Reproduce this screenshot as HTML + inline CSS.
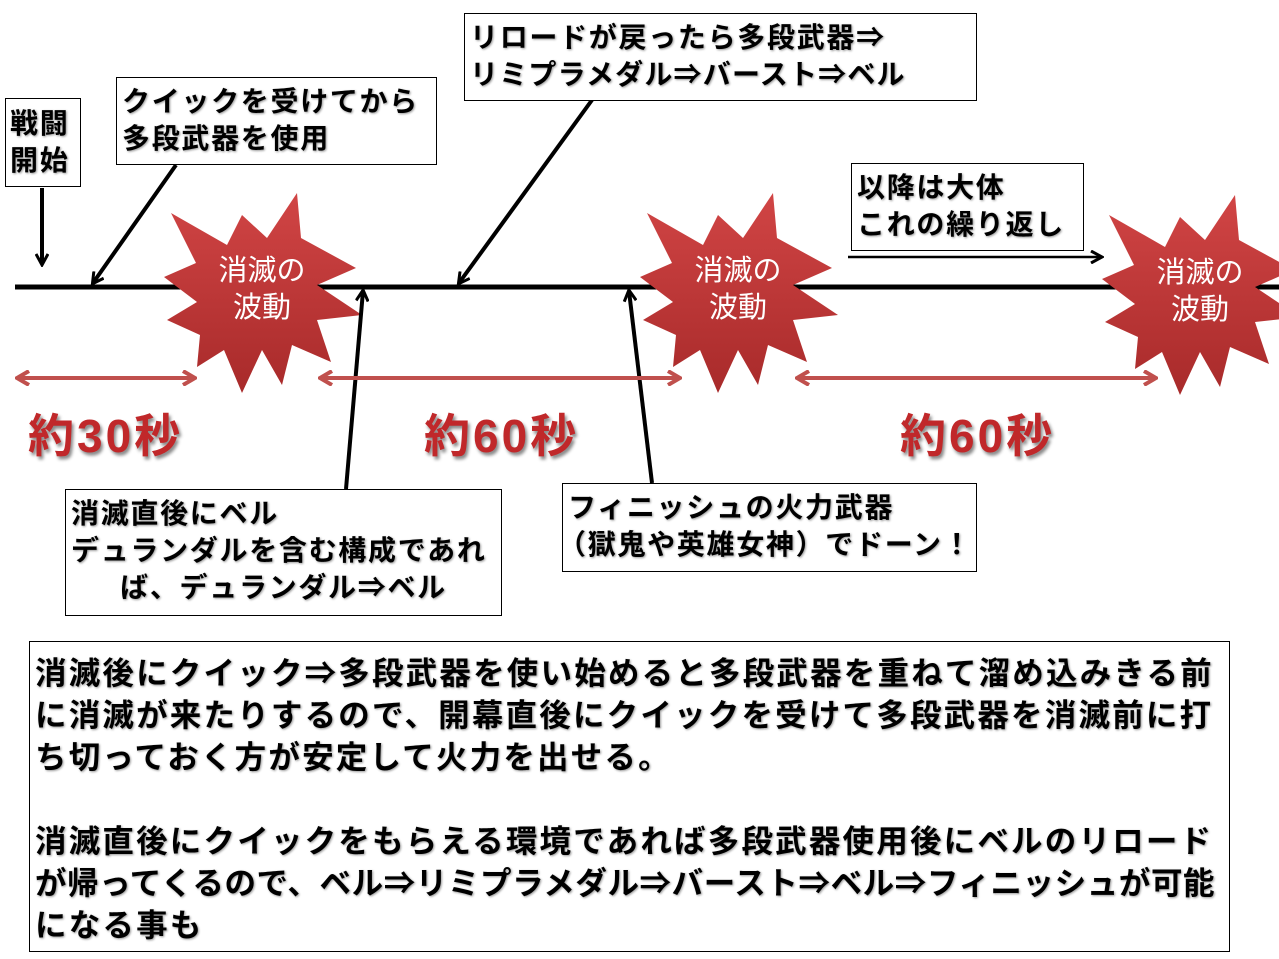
<!DOCTYPE html>
<html><head><meta charset="utf-8"><style>
body{margin:0;width:1279px;height:959px;background:#fff;position:relative;overflow:hidden;font-family:"Liberation Sans","Noto Sans CJK JP",sans-serif;}
.b{position:absolute;border:1px solid #000;background:#fff;font-weight:bold;font-size:28px;line-height:37px;color:#000;box-sizing:border-box;padding:5px 5px 2px;white-space:nowrap;text-shadow:1px 1px 2px #999;letter-spacing:1.7px;}
.r{position:absolute;font-weight:bold;font-size:46px;color:#c0282a;text-shadow:2px 3px 3px #888;letter-spacing:3px;}
svg{position:absolute;left:0;top:0}
</style></head><body>
<svg width="1279" height="959">
<defs>
<linearGradient id="g" x1="0" y1="0" x2="0" y2="1"><stop offset="0" stop-color="#d14545"/><stop offset="1" stop-color="#a82a2a"/></linearGradient>
<marker id="a" markerWidth="14" markerHeight="14" refX="11" refY="7" orient="auto" markerUnits="userSpaceOnUse"><path d="M1,1 L12,7 L1,13" fill="none" stroke="#000" stroke-width="3"/></marker>
<marker id="rr" markerWidth="16" markerHeight="16" refX="14" refY="8" orient="auto-start-reverse" markerUnits="userSpaceOnUse"><path d="M2,1 L14,8 L2,15" fill="none" stroke="#c0504d" stroke-width="4"/></marker>
<symbol id="s" overflow="visible"><polygon points="-91,-77 -35,-45 -20,-75 5,-52 35,-97 39,-52 94,-22 55,-5 100,25 55,30 69,72 30,55 20,95 0,60 -20,103 -38,60 -65,77 -62,45 -95,30 -65,12 -98,-13 -66,-27" fill="url(#g)"/></symbol>
</defs>
<line x1="15" y1="287" x2="1279" y2="287" stroke="#000" stroke-width="5"/>
<use href="#s" x="262" y="290"/>
<use href="#s" x="738" y="290"/>
<use href="#s" x="1200" y="292"/>
<g fill="#fff" font-size="29" text-anchor="middle" font-family="Liberation Sans,Noto Sans CJK JP,sans-serif">
<text x="262" y="280">消滅の</text><text x="262" y="317">波動</text>
<text x="738" y="280">消滅の</text><text x="738" y="317">波動</text>
<text x="1200" y="282">消滅の</text><text x="1200" y="319">波動</text>
</g>
<g stroke="#000" stroke-width="4" fill="none" marker-end="url(#a)">
<line x1="42" y1="188" x2="42" y2="264"/>
<line x1="176" y1="165" x2="93" y2="283"/>
<line x1="592" y1="100" x2="459" y2="283"/>
<line x1="346" y1="489" x2="363" y2="291"/>
<line x1="652" y1="483" x2="629" y2="291"/>
<line x1="848" y1="257" x2="1101" y2="257" stroke-width="2.5"/>
</g>
<g stroke="#c0504d" stroke-width="4" marker-start="url(#rr)" marker-end="url(#rr)">
<line x1="17" y1="378" x2="195" y2="378"/>
<line x1="320" y1="378" x2="680" y2="378"/>
<line x1="797" y1="378" x2="1156" y2="378"/>
</g>
</svg>
<div class="b" style="left:5px;top:98px;width:76px;height:89px;padding:6px 4px;">戦闘<br>開始</div>
<div class="b" style="left:116px;top:77px;width:321px;height:88px;">クイックを受けてから<br>多段武器を使用</div>
<div class="b" style="left:464px;top:13px;width:513px;height:88px;">リロードが戻ったら多段武器⇒<br><span style="letter-spacing:1.2px">リミプラメダル⇒バースト⇒ベル</span></div>
<div class="b" style="left:851px;top:163px;width:233px;height:88px;">以降は大体<br>これの繰り返し</div>
<div class="b" style="left:65px;top:489px;width:437px;height:127px;">消滅直後にベル<br>デュランダルを含む構成であれ<br><div style="text-align:center">ば、デュランダル⇒ベル</div></div>
<div class="b" style="left:562px;top:483px;width:415px;height:89px;">フィニッシュの火力武器<br><span style="margin-left:-10px">（獄鬼や英雄女神）でドーン！</span></div>
<div class="b" style="left:29px;top:641px;width:1201px;height:311px;font-size:31.5px;line-height:42px;padding:10px 5px;letter-spacing:2.2px;">消滅後にクイック⇒多段武器を使い始めると多段武器を重ねて溜め込みきる前<br>に消滅が来たりするので、開幕直後にクイックを受けて多段武器を消滅前に打<br>ち切っておく方が安定して火力を出せる。<br><br>消滅直後にクイックをもらえる環境であれば多段武器使用後にベルのリロード<br><span style="letter-spacing:0.6px">が帰ってくるので、ベル⇒リミプラメダル⇒バースト⇒ベル⇒フィニッシュが可能</span><br>になる事も</div>
<div class="r" style="left:28px;top:400px;">約30秒</div>
<div class="r" style="left:424px;top:400px;">約60秒</div>
<div class="r" style="left:900px;top:400px;">約60秒</div>
</body></html>
